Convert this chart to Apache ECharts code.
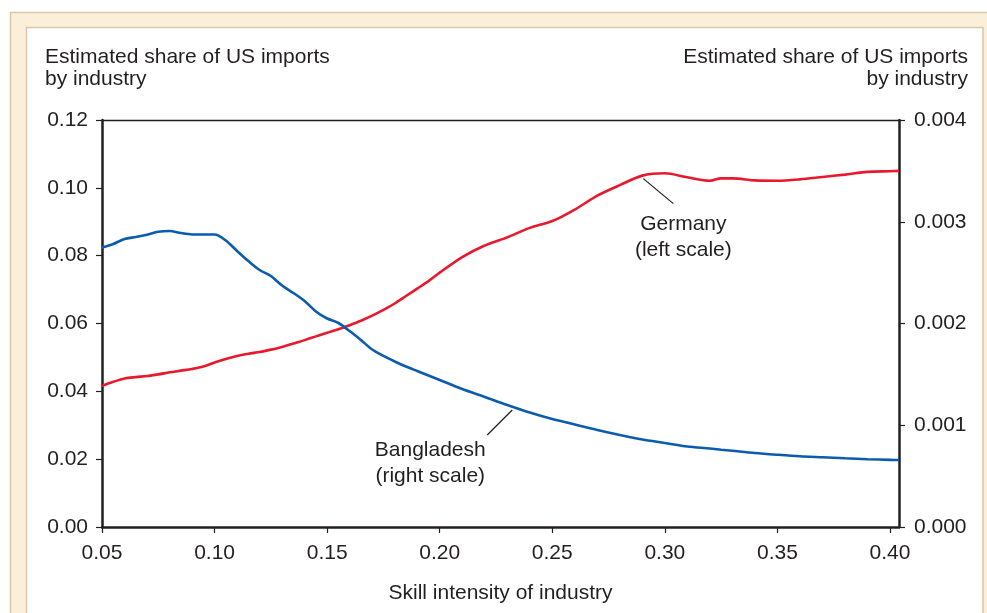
<!DOCTYPE html>
<html>
<head>
<meta charset="utf-8">
<script src="https://cdn.jsdelivr.net/npm/echarts@6/dist/echarts.min.js"></script>
<style>
  html, body { margin: 0; padding: 0; background: #ffffff; }
  #chart { width: 987px; height: 613px; }
</style>
</head>
<body>
<div id="chart"></div>
<script>
// ---- data ----
const skill = [0.05,0.055,0.06,0.065,0.07,0.075,0.08,0.085,0.09,0.095,0.10,0.105,0.11,0.115,0.12,0.125,0.13,0.135,0.14,0.145,0.15,0.155,0.16,0.165,0.17,0.175,0.18,0.185,0.19,0.195,0.20,0.21,0.22,0.23,0.24,0.25,0.26,0.27,0.28,0.29,0.30,0.31,0.32,0.325,0.33,0.34,0.35,0.36,0.37,0.38,0.39,0.40,0.404];
const germany = [0.0416,0.0428,0.0438,0.0442,0.0445,0.0450,0.0456,0.0461,0.0466,0.0473,0.0485,0.0495,0.0504,0.0511,0.0516,0.0523,0.0531,0.0541,0.0551,0.0562,0.0573,0.0583,0.0595,0.0608,0.0623,0.0640,0.0659,0.0681,0.0703,0.0725,0.0750,0.0796,0.0830,0.0854,0.0882,0.0902,0.0936,0.0977,0.1008,0.1036,0.1043,0.1031,0.1021,0.1028,0.1028,0.1022,0.1021,0.1025,0.1032,0.1039,0.1047,0.1049,0.1050];
const bangladesh = [0.002747,0.002781,0.002830,0.002850,0.002873,0.002901,0.002909,0.002889,0.002875,0.002874,0.002875,0.002816,0.002713,0.002614,0.002526,0.002467,0.002373,0.002300,0.002221,0.002118,0.002049,0.002005,0.001926,0.001838,0.001744,0.001681,0.001627,0.001577,0.001533,0.001489,0.001445,0.001356,0.001278,0.001199,0.001125,0.001061,0.001007,0.000953,0.000904,0.000860,0.000826,0.000791,0.000772,0.000760,0.000749,0.000727,0.000710,0.000695,0.000685,0.000675,0.000666,0.000660,0.000658];
const xTicks = [0.05,0.10,0.15,0.20,0.25,0.30,0.35,0.40];
const leftTitle = 'Estimated share of US imports\nby industry';
const rightTitle = 'Estimated share of US imports\nby industry';
const xTitle = 'Skill intensity of industry';
const germanyLabel = 'Germany\n(left scale)';
const bangladeshLabel = 'Bangladesh\n(right scale)';

const ink = '#231f20';
const font = '"Liberation Sans", Arial, Helvetica, sans-serif';
const fs = 21;

const chart = echarts.init(document.getElementById('chart'), null, { renderer: 'canvas' });

const axisLineStyle = { color: ink, width: 2.5 };
const tickStyle = { color: ink, width: 1.2 };

chart.setOption({
  animation: false,
  backgroundColor: '#ffffff',
  textStyle: { fontFamily: font, color: ink },
  grid: { left: 102, right: 88, top: 120, bottom: 86, containLabel: false },
  graphic: [
    { type: 'rect', id: 'frameOuter', z: -20, silent: true,
      shape: { x: 10.5, y: 12.5, width: 990, height: 700 },
      style: { fill: '#fcefd9', stroke: '#d6c7ae', lineWidth: 1.5 } },
    { type: 'rect', id: 'frameInner', z: -19, silent: true,
      shape: { x: 26.5, y: 27.5, width: 956.5, height: 700 },
      style: { fill: '#ffffff', stroke: '#d6c7ae', lineWidth: 1.5 } },
    { type: 'text', id: 'tl', x: 45, y: 46,
      style: { text: leftTitle, font: fs + 'px ' + font, fill: ink, lineHeight: 22, align: 'left', verticalAlign: 'top' } },
    { type: 'text', id: 'tr', x: 968, y: 46,
      style: { text: rightTitle, font: fs + 'px ' + font, fill: ink, lineHeight: 22, align: 'right', verticalAlign: 'top' } }
  ],
  xAxis: [{
    type: 'value', min: 0.05, max: 0.404,
    name: xTitle, nameLocation: 'middle', nameGap: 56,
    nameTextStyle: { fontSize: fs, color: ink, fontFamily: font },
    axisLine: { show: true, onZero: false, lineStyle: axisLineStyle },
    axisTick: { show: true, length: 6, lineStyle: tickStyle, customValues: xTicks },
    axisLabel: { show: true, fontSize: fs, color: ink, margin: 16, customValues: xTicks,
      formatter: v => v.toFixed(2) },
    splitLine: { show: false }
  }, {
    type: 'value', min: 0.05, max: 0.404, position: 'top',
    axisLine: { show: true, onZero: false, lineStyle: { color: ink, width: 1.3 } },
    axisTick: { show: false }, axisLabel: { show: false }, splitLine: { show: false }
  }],
  yAxis: [{
    type: 'value', min: 0, max: 0.12, interval: 0.02, position: 'left',
    axisLine: { show: true, onZero: false, lineStyle: axisLineStyle },
    axisTick: { show: true, length: 6, lineStyle: tickStyle },
    axisLabel: { fontSize: fs, color: ink, margin: 14, formatter: v => v.toFixed(2) },
    splitLine: { show: false }
  }, {
    type: 'value', min: 0, max: 0.004, interval: 0.001, position: 'right',
    axisLine: { show: true, onZero: false, lineStyle: axisLineStyle },
    axisTick: { show: true, length: 6, lineStyle: tickStyle },
    axisLabel: { fontSize: fs, color: ink, margin: 15, formatter: v => v.toFixed(3) },
    splitLine: { show: false }
  }],
  series: [{
    name: 'Germany', type: 'line', xAxisIndex: 0, yAxisIndex: 0,
    data: skill.map((x, i) => [x, germany[i]]),
    showSymbol: false, smooth: 0.3,
    lineStyle: { color: '#e8192c', width: 2.6 }, z: 3
  }, {
    name: 'Bangladesh', type: 'line', xAxisIndex: 0, yAxisIndex: 1,
    data: skill.map((x, i) => [x, bangladesh[i]]),
    showSymbol: false, smooth: 0.3,
    lineStyle: { color: '#0b5cad', width: 2.6 }, z: 3
  }]
});

// annotations anchored to the data points
const gi = skill.indexOf(0.29);
const bi = skill.indexOf(0.23);
const pg = chart.convertToPixel({ xAxisIndex: 0, yAxisIndex: 0 }, [skill[gi], germany[gi]]);
const pb = chart.convertToPixel({ xAxisIndex: 0, yAxisIndex: 1 }, [skill[bi], bangladesh[bi]]);
chart.setOption({
  graphic: [
    { type: 'line', id: 'gl', shape: { x1: pg[0] + 1, y1: pg[1] + 3, x2: pg[0] + 31, y2: pg[1] + 28 },
      style: { stroke: ink, lineWidth: 1.2 } },
    { type: 'text', id: 'gt', x: pg[0] + 41, y: pg[1] + 36,
      style: { text: germanyLabel, font: fs + 'px ' + font, fill: ink, align: 'center', verticalAlign: 'top', lineHeight: 26 } },
    { type: 'line', id: 'bl', shape: { x1: pb[0] + 5, y1: pb[1] + 5, x2: pb[0] - 20, y2: pb[1] + 30 },
      style: { stroke: ink, lineWidth: 1.2 } },
    { type: 'text', id: 'bt', x: pb[0] - 77, y: pb[1] + 32,
      style: { text: bangladeshLabel, font: fs + 'px ' + font, fill: ink, align: 'center', verticalAlign: 'top', lineHeight: 26 } }
  ]
});
</script>
</body>
</html>
